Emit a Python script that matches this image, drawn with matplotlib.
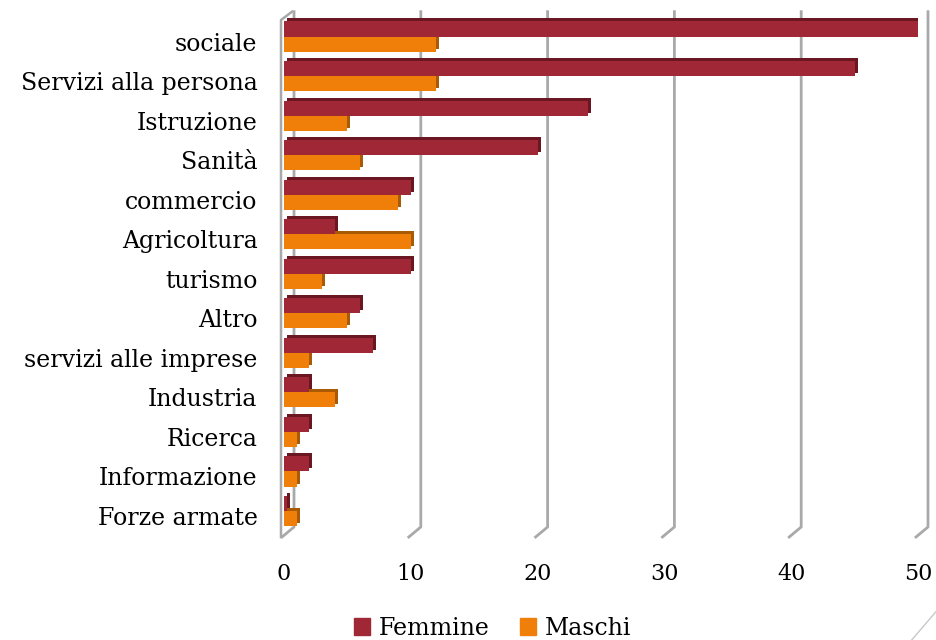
import matplotlib
matplotlib.use('Agg')
import matplotlib.pyplot as plt
from matplotlib.transforms import ScaledTranslation, IdentityTransform
from matplotlib.lines import Line2D
from matplotlib.patches import Patch
import numpy as np

categories = ["sociale", "Servizi alla persona", "Istruzione", "Sanità", "commercio",
              "Agricoltura", "turismo", "Altro", "servizi alle imprese", "Industria",
              "Ricerca", "Informazione", "Forze armate"]
femmine = [50, 45, 24, 20, 10, 4, 10, 6, 7, 2, 2, 2, 0.2]
maschi = [12, 12, 5, 6, 9, 10, 3, 5, 2, 4, 1, 1, 1]
xticks = [0, 10, 20, 30, 40, 50]
series_names = ["Femmine", "Maschi"]

C_F, C_F_DARK = '#a02735', '#6b1722'
C_M, C_M_DARK = '#f07f09', '#a85a05'
GRID = '#a9a9a9'
FONT = 'DejaVu Serif'

W, H = 936, 640
fig = plt.figure(figsize=(W / 100, H / 100), dpi=100)
x0, x1 = 284, 918
ytop, ybot = 16.75, 530.8
ax = fig.add_axes([x0 / W, 1 - ybot / H, (x1 - x0) / W, (ybot - ytop) / H])
ax.set_xlim(0, 50)
ax.set_ylim(len(categories) - 0.5, -0.5)
for s in ax.spines.values():
    s.set_visible(False)

y = np.arange(len(categories))
bh = 0.38
depth = ScaledTranslation(3 / 100, 3 / 100, fig.dpi_scale_trans)

# 3D-like depth (darker copy behind, offset)
ax.barh(y - bh / 2, femmine, height=bh, color=C_F_DARK, transform=ax.transData + depth, zorder=2)
ax.barh(y + bh / 2, maschi, height=bh, color=C_M_DARK, transform=ax.transData + depth, zorder=2)
ax.barh(y - bh / 2, femmine, height=bh, color=C_F, zorder=3, label=series_names[0])
ax.barh(y + bh / 2, maschi, height=bh, color=C_M, zorder=3, label=series_names[1])

# back-wall gridlines with perspective feet
for xv in xticks:
    px = ax.transData.transform((xv, 0))[0]
    ax.add_line(Line2D([px - 2, px + 10, px + 10], [H - 537, H - 527, H - 11.7],
                       color=GRID, lw=2, transform=IdentityTransform(), clip_on=False, zorder=0))
# left wall edge
px0 = ax.transData.transform((0, 0))[0]
ax.add_line(Line2D([px0 - 3, px0 - 3, px0 + 8], [H - 537, H - 20, H - 11.7],
                   color=GRID, lw=1.8, transform=IdentityTransform(), clip_on=False, zorder=1))

ax.set_xticks(xticks)
ax.set_xticklabels([str(v) for v in xticks], fontsize=16, family=FONT)
ax.set_yticks(y)
ax.set_yticklabels(categories, fontsize=17, family=FONT)
ax.tick_params(axis='x', length=0, pad=23)
ax.tick_params(axis='y', length=0, pad=19)
shift = ScaledTranslation(0, -5 / 100, fig.dpi_scale_trans)
for lab in ax.get_yticklabels():
    lab.set_transform(lab.get_transform() + shift)

handles = [Patch(color=C_F), Patch(color=C_M)]
fig.legend(handles, series_names, loc='center', bbox_to_anchor=(0.526, 0.018), ncol=2,
           frameon=False, prop={'family': FONT, 'size': 17}, handlelength=0.7,
           handleheight=0.7, handletextpad=0.35, columnspacing=1.3)

# decorative slide corner line
fig.add_artist(Line2D([936, 911.7], [H - 611.7, 0], color='#c8c8c8', lw=1,
                      transform=IdentityTransform()))

fig.savefig('out.png', dpi=100)
